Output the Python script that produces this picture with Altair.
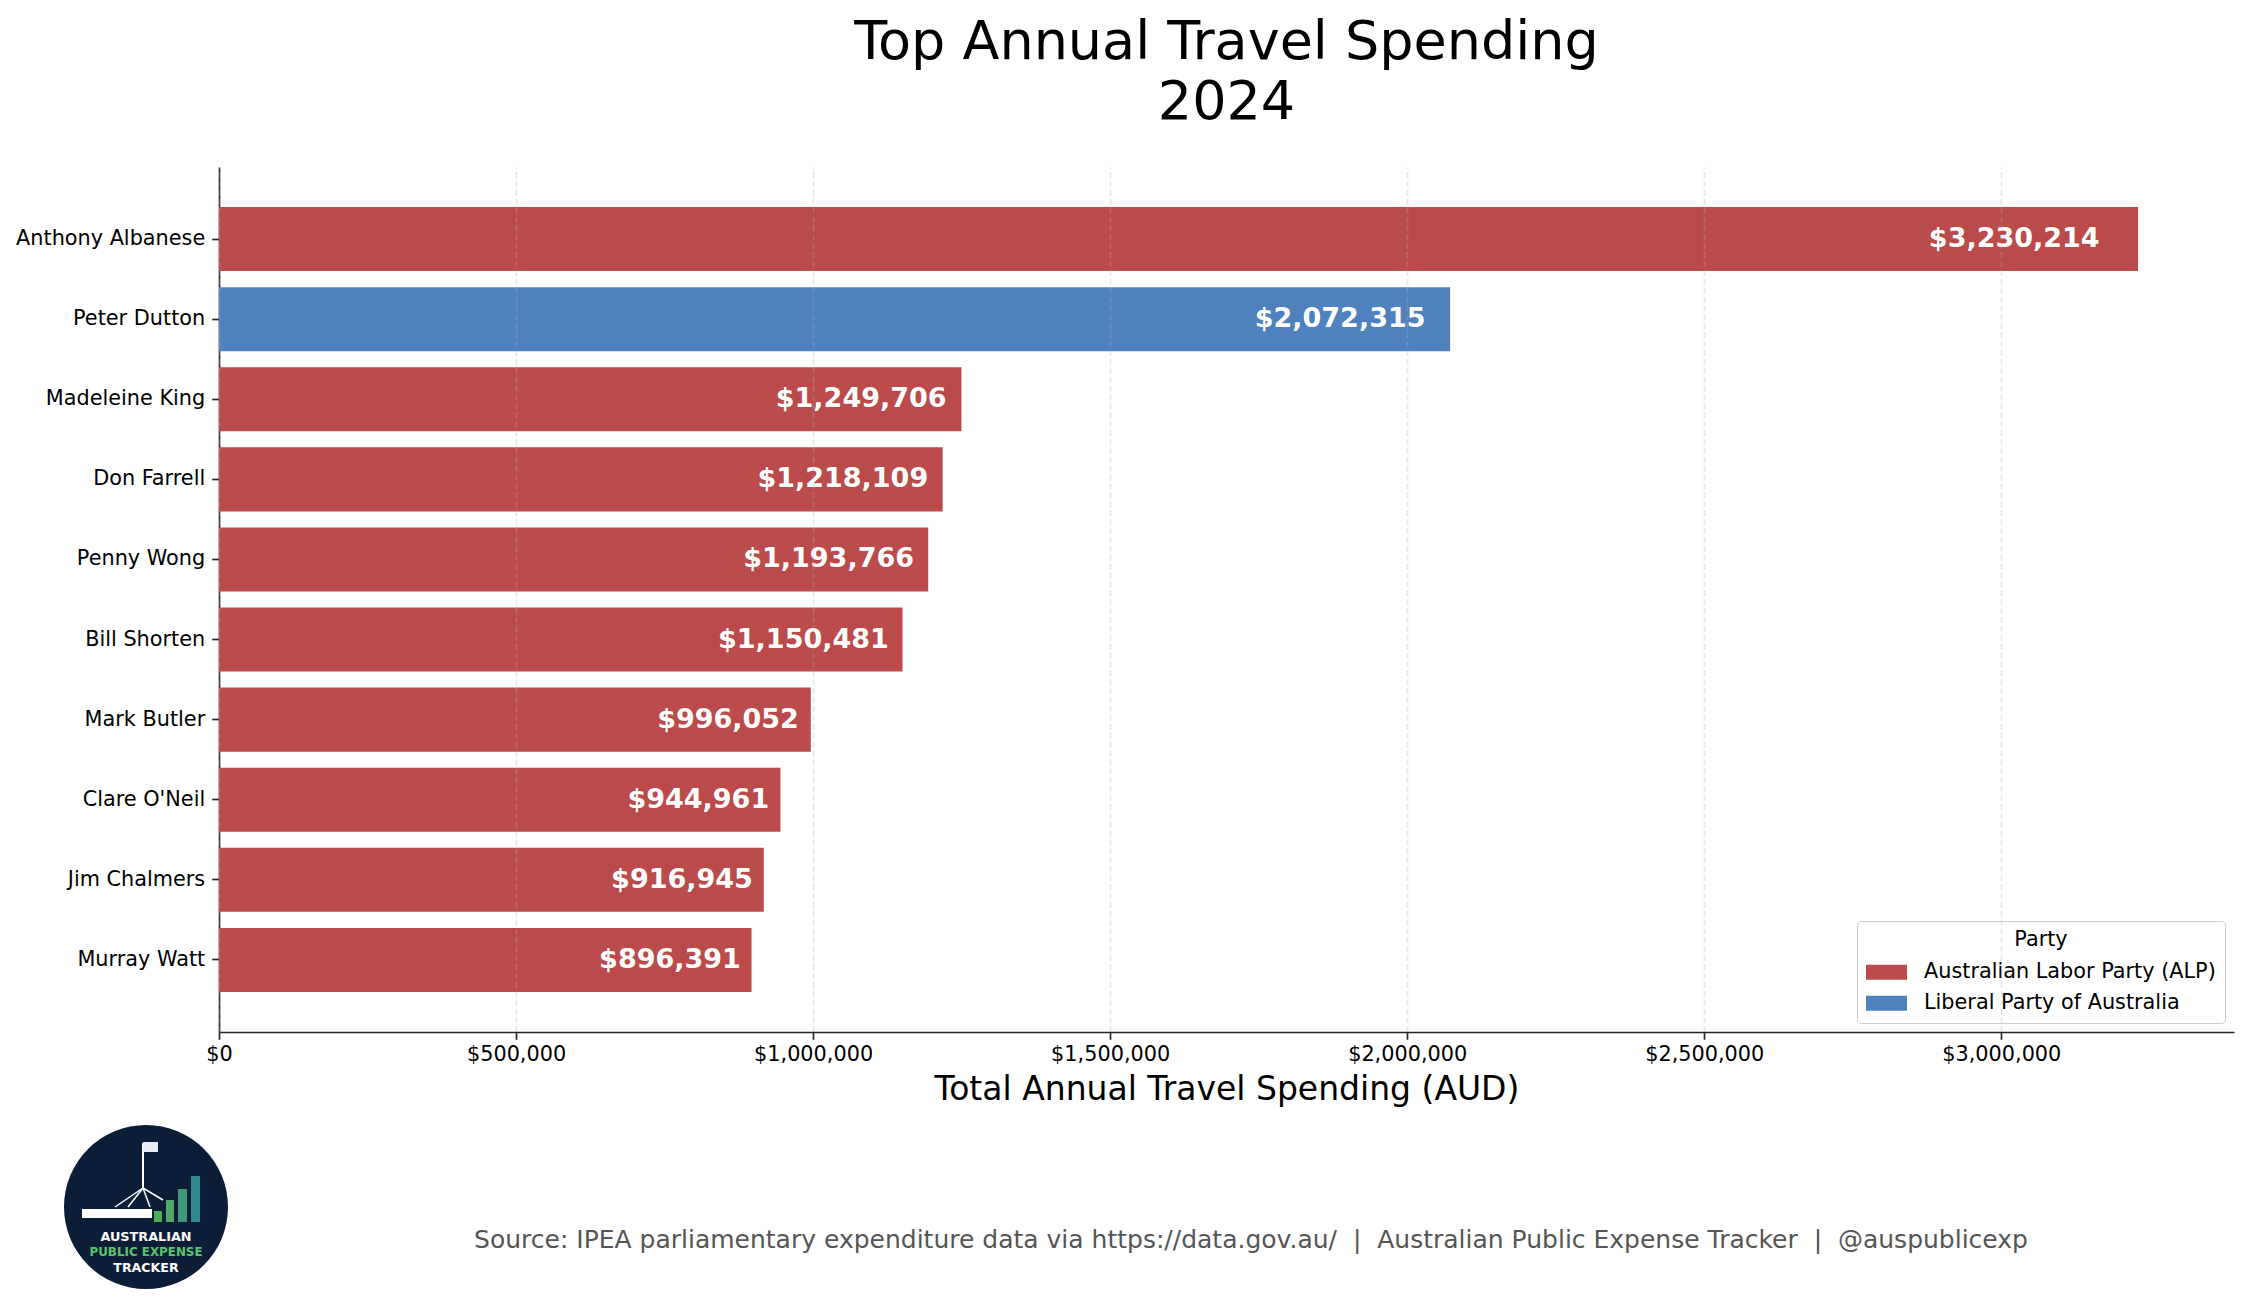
import altair as alt
import pandas as pd
import math

names = ["Anthony Albanese", "Peter Dutton", "Madeleine King", "Don Farrell", "Penny Wong",
         "Bill Shorten", "Mark Butler", "Clare O'Neil", "Jim Chalmers", "Murray Watt"]
values = [3230214, 2072315, 1249706, 1218109, 1193766, 1150481, 996052, 944961, 916945, 896391]
parties = ["Australian Labor Party (ALP)", "Liberal Party of Australia"] + ["Australian Labor Party (ALP)"] * 8
party_order = ["Australian Labor Party (ALP)", "Liberal Party of Australia"]
party_colors = ["#ba4b4a", "#4e81bd"]
x_ticks = [0, 500000, 1000000, 1500000, 2000000, 2500000, 3000000]
x_max = max(values) * 1.05

title_lines = ["Top Annual Travel Spending", "2024"]
x_title = "Total Annual Travel Spending (AUD)"
NB = "\u00a0"
source_text = ("Source: IPEA parliamentary expenditure data via https://data.gov.au/" + NB * 2 + "|" + NB * 2 +
               "Australian Public Expense Tracker" + NB * 2 + "|" + NB * 2 + "@auspublicexp")

df = pd.DataFrame({"name": names, "value": values, "party": parties})

FONT = "DejaVu Sans"
W, H = 2015, 865

xscale = alt.Scale(domain=[0, x_max], nice=False, zero=True)
yscale = alt.Scale(paddingInner=0.2, paddingOuter=0.5)

x_axis = alt.Axis(values=x_ticks, format="$,.0f", labelFontSize=20.8, labelColor="black",
                  labelFont=FONT, labelFlush=False, labelOverlap=False, labelPadding=5,
                  tickSize=7.3, tickWidth=1.67, tickColor="#262626",
                  domainColor="#262626", domainWidth=1.67,
                  grid=True, gridDash=[6.2, 2.7], gridColor="#b0b0b0", gridOpacity=0.3, gridWidth=1.67,
                  zindex=1, title=x_title, titleFontSize=33, titleFont=FONT, titleFontWeight="normal",
                  titleColor="black", titlePadding=9)
y_axis = alt.Axis(labelFontSize=20.8, labelColor="black", labelFont=FONT, labelPadding=7, labelLimit=0,
                  tickSize=7.3, tickWidth=1.67, tickColor="#262626",
                  domainColor="#262626", domainWidth=1.67, grid=False, title=None)

base = alt.Chart(df)

bars = base.mark_bar().encode(
    x=alt.X("value:Q", scale=xscale, axis=x_axis),
    y=alt.Y("name:N", sort=names, scale=yscale, axis=y_axis),
    color=alt.Color("party:N", scale=alt.Scale(domain=party_order, range=party_colors),
                    legend=alt.Legend(
                        title="Party", orient="none", legendX=1638, legendY=754,
                        titleFontSize=20.8, titleFont=FONT, titleFontWeight="normal", titleColor="black",
                        titleAnchor="middle", titleAlign="center", titlePadding=11,
                        labelFontSize=20.8, labelFont=FONT, labelColor="black", labelOffset=37,
                        labelLimit=0,
                        symbolType="M-1,-0.714L2.905,-0.714L2.905,0.714L-1,0.714Z", symbolSize=441,
                        symbolStrokeWidth=0, symbolOpacity=1,
                        rowPadding=9, padding=9, strokeColor="#cccccc", cornerRadius=4,
                        fillColor="rgba(255,255,255,0.8)")),
)

labels = base.transform_calculate(label_x="datum.value * 0.98").mark_text(
    align="right", baseline="middle", color="white", fontWeight="bold", fontSize=27, font=FONT
).encode(
    x=alt.X("label_x:Q", scale=xscale),
    y=alt.Y("name:N", sort=names, scale=yscale),
    text=alt.Text("value:Q", format="$,.0f"),
)

one = alt.Data(values=[{"k": 1}])

footer = alt.Chart(one).mark_text(fontSize=25, font=FONT, color="#555555", align="center",
                                  baseline="middle").encode(
    x=alt.value(1032), y=alt.value(1073), text=alt.value(source_text))

# logo (decorative)
logo_circle = alt.Chart(one).mark_point(filled=True, shape="circle", color="#0c1d38", opacity=1,
                                        size=164 * 164).encode(
    x=alt.value(-73), y=alt.value(1040))
logo_building = alt.Chart(one).mark_rect(color="white").encode(
    x=alt.value(-137), x2=alt.value(-67), y=alt.value(1042), y2=alt.value(1051))
logo_pole = alt.Chart(one).mark_rule(color="white", strokeWidth=2).encode(
    x=alt.value(-76), x2=alt.value(-76), y=alt.value(976), y2=alt.value(1021))
logo_flag = alt.Chart(one).mark_rect(color="#e8ecf4").encode(
    x=alt.value(-76), x2=alt.value(-61), y=alt.value(975), y2=alt.value(985))
logo_legs = [
    alt.Chart(one).mark_rule(color="white", strokeWidth=1.5).encode(
        x=alt.value(-76), y=alt.value(1021), x2=alt.value(ex), y2=alt.value(ey))
    for ex, ey in [(-104, 1040), (-91, 1040), (-69, 1040), (-56, 1033)]
]
logo_bars = [
    alt.Chart(one).mark_rect(color=c).encode(
        x=alt.value(x0), x2=alt.value(x1), y=alt.value(top), y2=alt.value(1055))
    for x0, x1, top, c in [(-65, -57, 1044, "#4caf50"), (-53, -45, 1033, "#52a86a"),
                           (-41, -32, 1022, "#3c9a78"), (-28, -19, 1009, "#2f8a8c")]
]
logo_texts = [
    alt.Chart(one).mark_text(fontSize=fs, font=FONT, fontWeight="bold", color=c, align="center",
                             baseline="middle").encode(
        x=alt.value(-73), y=alt.value(yy), text=alt.value(t))
    for t, yy, fs, c in [("AUSTRALIAN", 1070, 12.8, "white"), ("PUBLIC EXPENSE", 1085, 11.9, "#5cc46c"),
                         ("TRACKER", 1101, 12.6, "white")]
]

chart = alt.layer(bars, labels, footer, logo_circle, logo_building, *logo_legs, logo_pole, logo_flag,
                  *logo_bars, *logo_texts).properties(
    width=W, height=H,
    title=alt.TitleParams(text=title_lines, fontSize=54, font=FONT, fontWeight="normal", color="black",
                          anchor="middle", lineHeight=60, offset=37),
    autosize=alt.AutoSizeParams(type="none"),
    padding={"left": 211, "top": 159, "right": 7, "bottom": 268},
    background="white",
).configure_view(stroke=None)

chart.save("out.html", embed_options={"renderer": "svg", "actions": False})
